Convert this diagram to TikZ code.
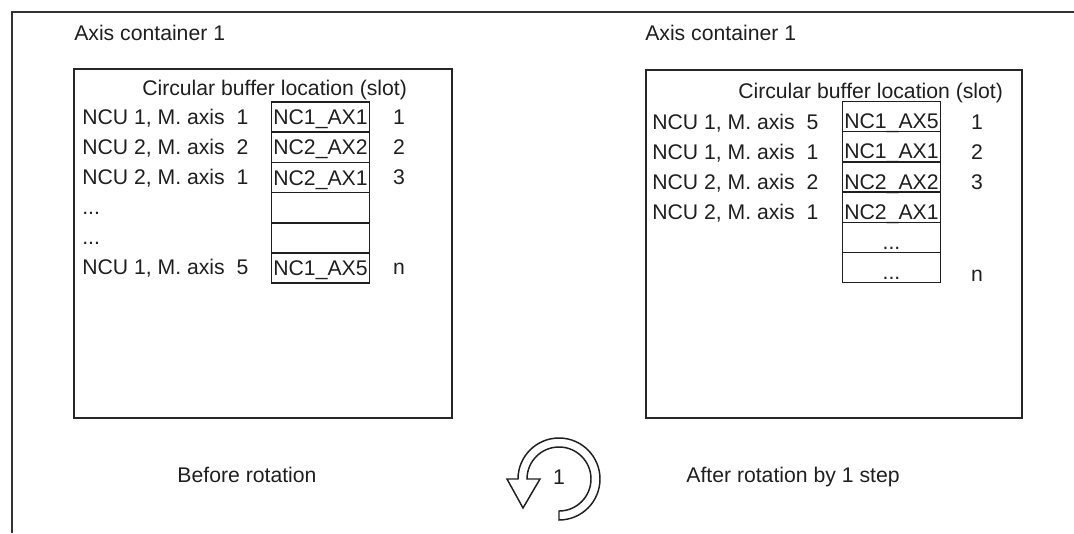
\documentclass[tikz,border=0pt]{standalone}
\usepackage{fontspec}
\setmainfont{Liberation Sans}
\usetikzlibrary{positioning}

\begin{document}
\begin{tikzpicture}[
  x=0.75pt, y=-0.75pt,
  node distance=0pt,
  every node/.style={font=\fontsize{15.9}{19}\selectfont, text=black!88, inner sep=0pt},
  frame/.style={draw=black!80, line width=1.2pt},
  cbox/.style={draw=black!85, line width=1.2pt},
  slot/.style={draw=black!88, line width=1.1pt, outer sep=0pt,
               minimum width=73.5pt, minimum height=22.65pt},
  slotL/.style={slot, text height=11.4pt, text depth=0pt},
  slotR/.style={slot, text height=18pt, text depth=0pt},
  lbl/.style={anchor=base west},
  num/.style={anchor=base},
  turn/.style={draw=black!88, line width=1.1pt, fill=white}
]
\useasboundingbox (0,0) rectangle (1074,533);

% outer frame (cut by the page)
\draw[frame] (1074,12) -- (12,12) -- (12,533);

% before rotation
\node[lbl] (titleL) at (74,40.5) {Axis container 1};
\draw[cbox] (74,69) rectangle (452,418);
\node[lbl] (headL) at (142,95.5) {Circular buffer location (slot)};

\node[slotL] (l1) at (320.5,117.1) {NC1\_AX1};
\node[slotL, below=of l1] (l2) {NC2\_AX2};
\node[slotL, below=of l2] (l3) {NC2\_AX1};
\node[slotL, below=of l3] (l4) {};
\node[slotL, below=of l4] (l5) {};
\node[slotL, below=of l5] (l6) {NC1\_AX5};

\node[lbl] (al1) at (82,124.5) {NCU 1, M. axis\ \ 1};
\node[lbl] (al2) at (82,154.5) {NCU 2, M. axis\ \ 2};
\node[lbl] (al3) at (82,184.5) {NCU 2, M. axis\ \ 1};
\node[lbl] (al4) at (82,214.5) {...};
\node[lbl] (al5) at (82,244.5) {...};
\node[lbl] (al6) at (82,274.5) {NCU 1, M. axis\ \ 5};

\node[num] (nl1) at (399,124.5) {1};
\node[num] (nl2) at (399,154.5) {2};
\node[num] (nl3) at (399,184.5) {3};
\node[num] (nl6) at (399,274.5) {n};

% after rotation
\node[lbl] (titleR) at (645,40.5) {Axis container 1};
\draw[cbox] (646,70) rectangle (1022,418);
\node[lbl] (headR) at (738,98.5) {Circular buffer location (slot)};

\node[slotR] (r1) at (891.5,116.6) {NC1\_AX5};
\node[slotR, below=of r1] (r2) {NC1\_AX1};
\node[slotR, below=of r2] (r3) {NC2\_AX2};
\node[slotR, below=of r3] (r4) {NC2\_AX1};
\node[slotR, below=of r4] (r5) {...};
\node[slotR, below=of r5] (r6) {...};

\node[lbl] (ar1) at (652,129) {NCU 1, M. axis\ \ 5};
\node[lbl] (ar2) at (652,159) {NCU 1, M. axis\ \ 1};
\node[lbl] (ar3) at (652,189) {NCU 2, M. axis\ \ 2};
\node[lbl] (ar4) at (652,219) {NCU 2, M. axis\ \ 1};

\node[num] (nr1) at (977,129) {1};
\node[num] (nr2) at (977,159) {2};
\node[num] (nr3) at (977,189) {3};
\node[num] (nr6) at (977,281) {n};

% rotation
\node[num] (before) at (247,482.5) {Before rotation};
\node[num] (after) at (793,482.5) {After rotation by 1 step};
\draw[turn] (559,520) arc[start angle=-90, end angle=180, radius=30.75pt]
  -- (507,479) -- (523,508) -- (540,479) -- (527,479)
  arc[start angle=180, end angle=-90, radius=24pt] -- cycle;
\node (rot) at (559,477) {1};
\end{tikzpicture}
\end{document}
